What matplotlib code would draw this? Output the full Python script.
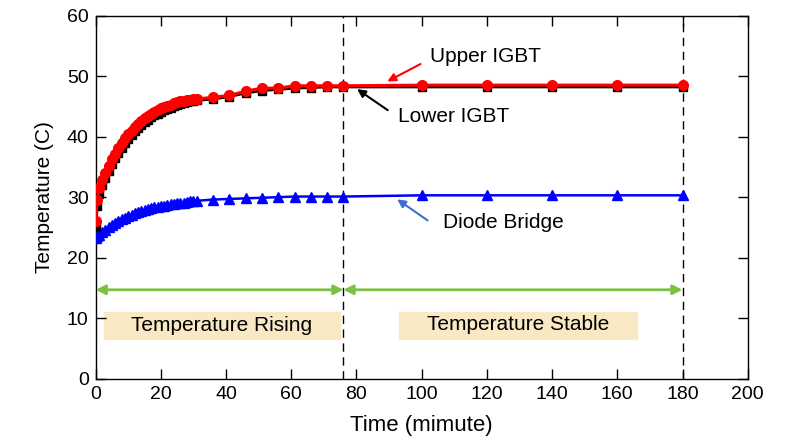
import numpy as np
import matplotlib.pyplot as plt

plt.rcParams['font.family'] = ['Liberation Sans', 'DejaVu Sans']

# time axis (minutes): dense logging at start, then sparse samples
t_dense = [0, 0.5, 1, 2, 3, 4, 5, 6, 7, 8, 9, 10, 11, 12, 13, 14, 15, 16,
           17, 18, 19, 20, 21, 22, 23, 24, 25, 26, 27, 28, 29, 30, 31]
t_sparse = [36, 41, 46, 51, 56, 61, 66, 71, 76, 100, 120, 140, 160, 180]

upper_dense = [26.0, 29.5, 31.5, 32.8, 34.0, 35.2, 36.3, 37.2, 38.1, 38.9, 39.7,
               40.4, 41.0, 41.6, 42.1, 42.6, 43.0, 43.4, 43.8, 44.1, 44.4, 44.7,
               44.9, 45.1, 45.3, 45.5, 45.7, 45.8, 45.9, 46.0, 46.1, 46.2, 46.2]
upper_sparse = [46.5, 46.8, 47.5, 48.0, 48.0, 48.4, 48.4, 48.4, 48.4,
                48.5, 48.5, 48.5, 48.5, 48.5]

lower_dense = [25.0, 28.5, 30.5, 32.0, 33.2, 34.3, 35.4, 36.4, 37.3, 38.1, 38.9,
               39.6, 40.3, 40.9, 41.4, 41.9, 42.4, 42.8, 43.2, 43.5, 43.8, 44.1,
               44.4, 44.6, 44.8, 45.0, 45.2, 45.4, 45.5, 45.7, 45.8, 45.9, 46.0]
lower_sparse = [46.2, 46.6, 47.2, 47.6, 47.8, 48.0, 48.1, 48.2, 48.2,
                48.2, 48.2, 48.2, 48.2, 48.2]

diode_dense = [23.2, 23.5, 23.8, 24.2, 24.6, 25.0, 25.4, 25.8, 26.1, 26.4, 26.6,
               26.9, 27.1, 27.3, 27.5, 27.7, 27.9, 28.0, 28.2, 28.3, 28.4, 28.5,
               28.6, 28.7, 28.8, 28.9, 29.0, 29.0, 29.1, 29.2, 29.3, 29.3, 29.4]
diode_sparse = [29.6, 29.7, 29.8, 29.9, 30.0, 30.1, 30.1, 30.1, 30.1,
                30.3, 30.3, 30.3, 30.3, 30.3]

stage_split = 76
stage_end = 180

t_all = np.array(t_dense + t_sparse)
upper = np.array(upper_dense + upper_sparse)
lower = np.array(lower_dense + lower_sparse)
diode = np.array(diode_dense + diode_sparse)

fig = plt.figure(figsize=(7.94, 4.38), dpi=100)
ax = fig.add_axes([0.1205, 0.1352, 0.8212, 0.8294])

ax.plot(t_all, diode, '-^', color='#0000ff', lw=1.8, ms=7, zorder=3)
ax.plot(t_all, lower, '-s', color='black', lw=2, ms=6, zorder=4)
ax.plot(t_all, upper, '-o', color='#ff0000', lw=2.2, ms=7, zorder=5)

# stage boundaries
for xv in (stage_split, stage_end):
    ax.plot([xv, xv], [0, 60], '--', color='black', lw=1, dashes=(6, 4), zorder=2)

# green double arrows
green = '#7cc242'
ax.annotate('', xy=(0, 14.7), xytext=(stage_split, 14.7),
            arrowprops=dict(arrowstyle='<|-|>', color=green, lw=2,
                            mutation_scale=14, shrinkA=0, shrinkB=0))
ax.annotate('', xy=(stage_split, 14.7), xytext=(stage_end, 14.7),
            arrowprops=dict(arrowstyle='<|-|>', color=green, lw=2,
                            mutation_scale=14, shrinkA=0, shrinkB=0))

# stage labels with tan boxes
ax.add_patch(plt.Rectangle((2.5, 6.5), 72.5, 4.5, color='#f8e8c4', zorder=1))
ax.add_patch(plt.Rectangle((93, 6.6), 73, 4.4, color='#f8e8c4', zorder=1))
ax.text(38.5, 8.8, 'Temperature Rising', fontsize=15, ha='center', va='center')
ax.text(129.5, 8.9, 'Temperature Stable', fontsize=15, ha='center', va='center')

# series annotations
ax.annotate('', xy=(88.7, 48.9), xytext=(100.4, 52.2),
            arrowprops=dict(arrowstyle='-|>', color='#ff0000', lw=1.5, mutation_scale=12))
ax.text(102.5, 53.2, 'Upper IGBT', fontsize=15, va='center')
ax.annotate('', xy=(79.5, 48.1), xytext=(90.3, 44.1),
            arrowprops=dict(arrowstyle='-|>', color='black', lw=1.5, mutation_scale=12))
ax.text(92.7, 43.4, 'Lower IGBT', fontsize=15, va='center')
ax.annotate('', xy=(91.8, 29.9), xytext=(102.5, 25.9),
            arrowprops=dict(arrowstyle='-|>', color='#3a6fd0', lw=1.5, mutation_scale=12))
ax.text(106.5, 25.8, 'Diode Bridge', fontsize=15, va='center')

ax.set_xlim(0, 200)
ax.set_ylim(0, 60)
ax.set_xticks(np.arange(0, 201, 20))
ax.set_yticks(np.arange(0, 61, 10))
ax.tick_params(direction='in', length=7, width=1, top=True, right=True,
               labelsize=14, pad=5)
for s in ax.spines.values():
    s.set_linewidth(1)
ax.set_xlabel('Time (mimute)', fontsize=16, labelpad=9)
ax.set_ylabel('Temperature (C)', fontsize=15, labelpad=9)

fig.savefig('out.png', dpi=100)
